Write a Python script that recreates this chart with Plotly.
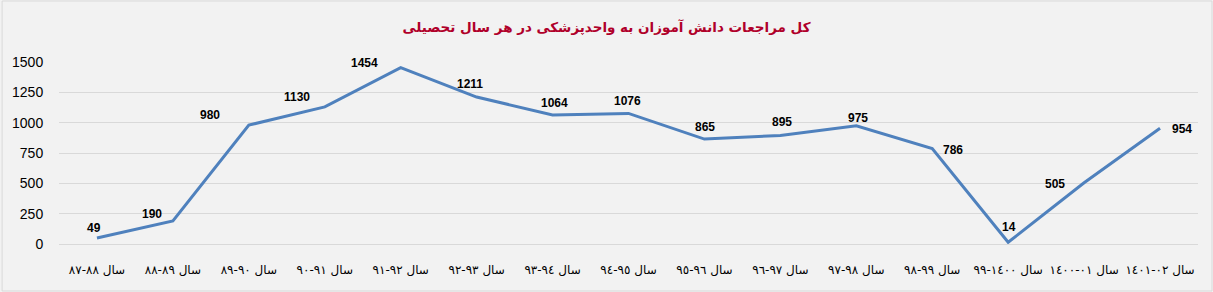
import plotly.graph_objects as go

# Category labels (Arabic-Indic digits), written so the browser's bidi shows "۸۷-۸۸ سال"
categories = [
    "سال ٨٨-٨٧", "سال ٨٩-٨٨", "سال ٩٠-٨٩", "سال ٩١-٩٠", "سال ٩٢-٩١",
    "سال ٩٣-٩٢", "سال ٩٤-٩٣", "سال ٩٥-٩٤", "سال ٩٦-٩٥", "سال ٩٧-٩٦",
    "سال ٩٨-٩٧", "سال ٩٩-٩٨", "سال ١٤٠٠-٩٩", "سال ٠١-١٤٠٠", "سال ٠٢-١٤٠١",
]
values = [49, 190, 980, 1130, 1454, 1211, 1064, 1076, 865, 895, 975, 786, 14, 505, 954]
y_ticks = [0, 250, 500, 750, 1000, 1250, 1500]
title_text = "کل مراجعات دانش آموزان به واحدپزشکی در هر سال تحصیلی"

# label offsets in pixels (x, y-up)
label_shift = [(-3, 10), (-21, 7), (-39, 10), (-28, 10), (-36, 5), (-7, 13), (2, 12),
               (-1, 12), (1, 12), (2, 13), (2, 8), (21, -1), (1, 15), (-29, -1), (22, -1)]

fig = go.Figure()
fig.add_trace(go.Scatter(
    x=categories, y=values, mode="lines",
    line=dict(color="#4f81bd", width=3),
    hoverinfo="x+y", showlegend=False,
))

for c, v, (sx, sy) in zip(categories, values, label_shift):
    fig.add_annotation(x=c, y=v, xref="x", yref="y", text=str(v), showarrow=False,
                       xshift=sx, yshift=sy, xanchor="center", yanchor="middle",
                       font=dict(family="Liberation Sans", size=12, color="#000000", weight="bold"))

fig.update_layout(
    width=1213, height=292,
    margin=dict(l=57, r=15, t=62, b=48),
    paper_bgcolor="#f2f2f2", plot_bgcolor="#f2f2f2",
    title=dict(text=title_text, x=0.5, xanchor="center", y=1 - 27 / 292, yanchor="middle",
               font=dict(family="DejaVu Sans", size=13.5, color="#b0002a", weight="bold")),
    xaxis=dict(type="category", range=[-0.5, len(categories) - 0.5],
               showgrid=False, showline=True, linecolor="#d9d9d9", linewidth=1,
               ticks="outside", ticklen=15, tickcolor="rgba(0,0,0,0)", tickangle=0,
               tickfont=dict(family="DejaVu Sans", size=12, color="#000000"),
               zeroline=False, fixedrange=True),
    yaxis=dict(range=[0, 1500], tickvals=y_ticks, showgrid=True, gridcolor="#d9d9d9",
               gridwidth=1, zeroline=False, showline=False,
               ticks="outside", ticklen=12, tickcolor="rgba(0,0,0,0)",
               tickfont=dict(family="Liberation Sans", size=14, color="#000000"),
               fixedrange=True),
    shapes=[dict(type="rect", xref="paper", yref="paper", x0=-57 / 1141, x1=1 + 14 / 1141,
                 y0=-47 / 182, y1=1 + 61 / 182, line=dict(color="#d9d9d9", width=1),
                 fillcolor="rgba(0,0,0,0)", layer="below")],
)

fig.write_html("out.html")
